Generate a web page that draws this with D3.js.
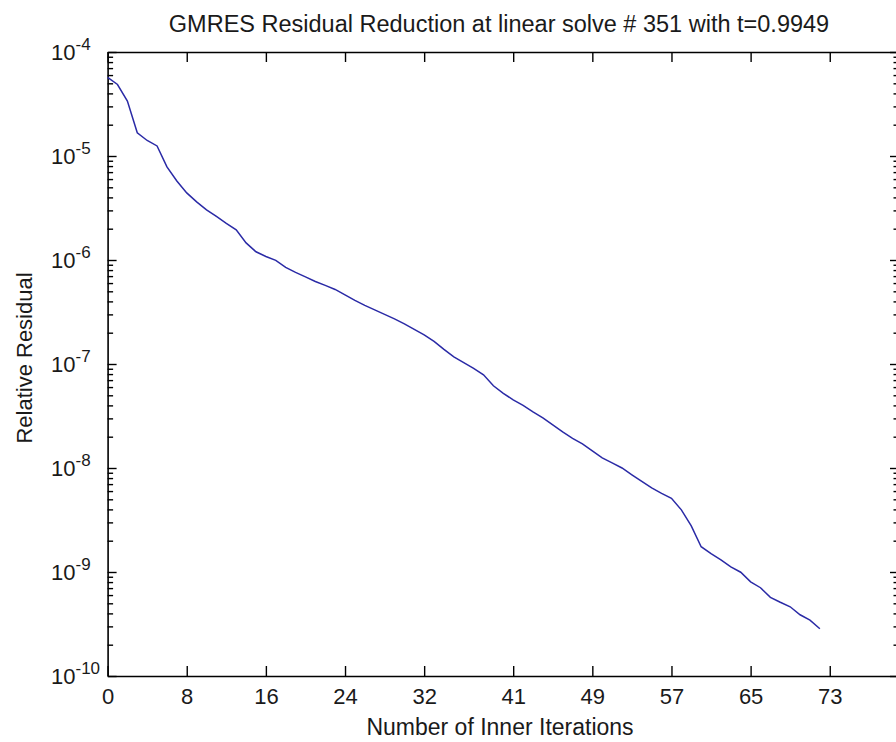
<!DOCTYPE html>
<html>
<head>
<meta charset="utf-8">
<script src="https://cdn.jsdelivr.net/npm/d3@7"></script>
<style>
  body { margin: 0; background: #fff; }
  svg { display: block; font-family: "Liberation Sans", Arial, sans-serif; }
</style>
</head>
<body>
<script>
// GMRES residual history, one value per inner iteration (0..72)
var residuals = [
  5.69e-5, 4.87e-5, 3.38e-5, 1.67e-5, 1.41e-5, 1.25e-5, 7.85e-6, 5.75e-6, 4.42e-6, 3.62e-6,
  3.03e-6, 2.62e-6, 2.25e-6, 1.95e-6, 1.46e-6, 1.20e-6, 1.08e-6, 9.91e-7, 8.49e-7, 7.60e-7,
  6.89e-7, 6.22e-7, 5.70e-7, 5.21e-7, 4.62e-7, 4.09e-7, 3.66e-7, 3.31e-7, 3.00e-7, 2.72e-7,
  2.43e-7, 2.15e-7, 1.91e-7, 1.65e-7, 1.38e-7, 1.17e-7, 1.03e-7, 9.08e-8, 7.87e-8, 6.17e-8,
  5.22e-8, 4.52e-8, 4.01e-8, 3.47e-8, 3.03e-8, 2.60e-8, 2.23e-8, 1.93e-8, 1.71e-8, 1.46e-8,
  1.25e-8, 1.12e-8, 1.00e-8, 8.61e-9, 7.45e-9, 6.45e-9, 5.71e-9, 5.12e-9, 3.96e-9, 2.78e-9,
  1.75e-9, 1.50e-9, 1.31e-9, 1.12e-9, 9.95e-10, 8.05e-10, 7.06e-10, 5.71e-10, 5.12e-10, 4.63e-10,
  3.88e-10, 3.44e-10, 2.85e-10
];
var xTicks = [0, 8, 16, 24, 32, 41, 49, 57, 65, 73];
var yExponents = [-4, -5, -6, -7, -8, -9, -10];
var titleText = "GMRES Residual Reduction at linear solve # 351 with t=0.9949";
var xLabelText = "Number of Inner Iterations";
var yLabelText = "Relative Residual";

var width = 896,
    height = 742;

// plot box (right edge falls just past the picture, as in the original)
var boxLeft = 107.6, boxRight = 899, boxTop = 52, boxBottom = 676;

var x = d3.scaleLinear().domain([0, 80]).range([boxLeft, boxRight]);
var y = d3.scaleLog().domain([1e-10, 1e-4]).range([boxBottom, boxTop]);

var svg = d3.select("body").append("svg")
    .attr("width", width)
    .attr("height", height);

svg.append("rect").attr("width", width).attr("height", height).attr("fill", "#fff");

// minor log ticks 2..9 x 10^k
var minor = [];
yExponents.slice(0, -1).forEach(function (e) {
    for (var m = 2; m <= 9; m++) minor.push(m * Math.pow(10, e - 1));
});
var majors = yExponents.map(function (e) { return Math.pow(10, e); });

function styleAxis(g) {
    g.selectAll("path.domain").attr("stroke", "#000").attr("stroke-width", 1.6);
    g.selectAll(".tick line").attr("stroke", "#000").attr("stroke-width", 1.4);
    g.attr("font-family", null).attr("font-size", 22);
    g.selectAll("text").attr("fill", "#1a1a1a");
}

// x axes (bottom with labels, top without)
svg.append("g")
    .attr("transform", "translate(0," + boxBottom + ")")
    .call(d3.axisBottom(x).tickValues(xTicks).tickSizeInner(-10).tickSizeOuter(0).tickPadding(12.5))
    .call(styleAxis);

svg.append("g")
    .attr("transform", "translate(0," + boxTop + ")")
    .call(d3.axisTop(x).tickValues(xTicks).tickSizeInner(-10).tickSizeOuter(0).tickFormat(""))
    .call(styleAxis);

// y axes, left and right, majors + minors
[[boxLeft, d3.axisLeft], [boxRight, d3.axisRight]].forEach(function (s) {
    svg.append("g")
        .attr("transform", "translate(" + s[0] + ",0)")
        .call(s[1](y).tickValues(majors).tickSizeInner(-9).tickSizeOuter(0).tickFormat(""))
        .call(styleAxis);
    svg.append("g")
        .attr("transform", "translate(" + s[0] + ",0)")
        .call(s[1](y).tickValues(minor).tickSizeInner(-5.5).tickSizeOuter(0).tickFormat(""))
        .call(styleAxis)
        .select("path.domain").remove();
});

// decade labels 10^k
var ylab = svg.append("g").attr("fill", "#1a1a1a");
yExponents.forEach(function (e) {
    var t = ylab.append("text")
        .attr("x", 51)
        .attr("y", y(Math.pow(10, e)) + 7.5)
        .attr("font-size", 22);
    t.append("tspan").text("10");
    t.append("tspan").attr("font-size", 17).attr("dy", -10).text(String(e).replace("-", "\u2011"));
});

// residual curve
var line = d3.line()
    .x(function (d, i) { return x(i); })
    .y(function (d) { return y(d); });

svg.append("path")
    .datum(residuals)
    .attr("d", line)
    .attr("fill", "none")
    .attr("stroke", "#2a2aa6")
    .attr("stroke-width", 1.5);

// title and axis labels
svg.append("text")
    .attr("x", 499).attr("y", 32)
    .attr("text-anchor", "middle")
    .attr("font-size", 23.5)
    .attr("fill", "#1a1a1a")
    .text(titleText);

svg.append("text")
    .attr("x", 500).attr("y", 735)
    .attr("text-anchor", "middle")
    .attr("font-size", 23)
    .attr("fill", "#1a1a1a")
    .text(xLabelText);

svg.append("text")
    .attr("transform", "translate(32," + 358 + ") rotate(-90)")
    .attr("text-anchor", "middle")
    .attr("font-size", 22)
    .attr("fill", "#1a1a1a")
    .text(yLabelText);
</script>
</body>
</html>
